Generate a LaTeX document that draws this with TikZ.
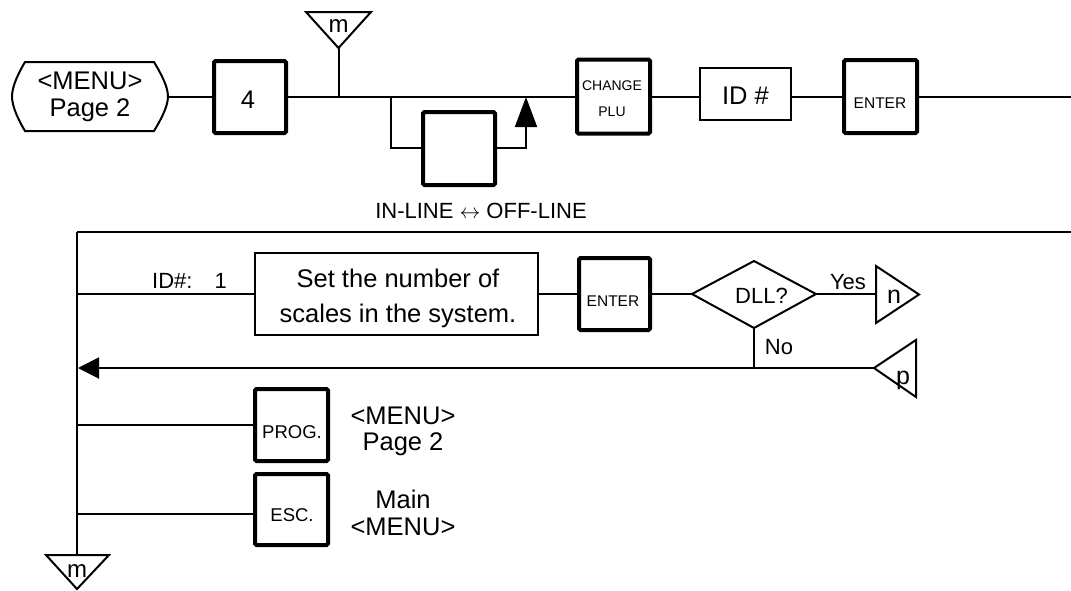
\documentclass[tikz,border=0pt]{standalone}
\usepackage{fontspec}
\setmainfont{Liberation Sans}
\usetikzlibrary{arrows.meta}
\tikzset{
  ln/.style={line width=2pt},
  keybox/.style={draw, line width=4pt, rounded corners=1.5pt, inner sep=0pt, fill=white},
  thinbox/.style={draw, line width=2pt, inner sep=0pt, fill=white},
  bigtxt/.style={font=\fontsize{25.5}{27}\selectfont, inner sep=0pt},
  labtxt/.style={font=\fontsize{22}{26}\selectfont, inner sep=0pt},
  tritxt/.style={font=\fontsize{24}{26}\selectfont, inner sep=0pt},
  keysmall/.style={font=\fontsize{14}{26}\selectfont, inner sep=0pt, align=center},
  keyenter/.style={font=\fontsize{15.5}{18}\selectfont, inner sep=0pt},
  keymid/.style={font=\fontsize{18.5}{20}\selectfont, inner sep=0pt},
  tri/.style={draw, line width=2pt, line join=miter},
  uparrow/.style={ln, -{Triangle[length=30pt,width=22pt]}},
  leftarrow/.style={ln, -{Triangle[length=21pt,width=21pt]}},
}
\begin{document}
\begin{tikzpicture}[x=1pt,y=-1pt]
\useasboundingbox (0,0) rectangle (1071,590);

% ---------- top row ----------
\node[draw=none, minimum width=156pt, minimum height=69pt, inner sep=0pt] (start) at (90,96.5) {};
\draw[ln] (25,62) -- (154,62) .. controls (160,72) and (168,86) .. (168,96.5)
  .. controls (168,107) and (160,121) .. (154,131) -- (25,131)
  .. controls (19,121) and (12,107) .. (12,96.5)
  .. controls (12,86) and (19,72) .. (25,62) -- cycle;
\node[bigtxt, align=center] (starttxt) at (90,97) {<MENU>\\Page 2};

\node[keybox, minimum width=72pt, minimum height=72pt] (four) at (250,97) {};
\node[bigtxt] (fourtxt) at (248,100) {4};

\node[keybox, minimum width=73pt, minimum height=74pt] (chg) at (613.5,96.5) {};
\node[keysmall] (chgtxt) at (612,99) {CHANGE\\PLU};

\node[thinbox, minimum width=91pt, minimum height=52pt] (id) at (745.5,94) {};
\node[bigtxt] (idtxt) at (745.5,95.5) {ID \#};

\node[keybox, minimum width=73pt, minimum height=73pt] (enterA) at (880.5,96.5) {};
\node[keyenter] (enterAtxt) at (880,103) {ENTER};

\coordinate (topR) at (1071,97);
\draw[ln] (start.east |- 0,97) -- (four.west |- 0,97);
\draw[ln] (four.east |- 0,97) -- (chg.west |- 0,97);
\draw[ln] (chg.east |- 0,97) -- (id.west |- 0,97);
\draw[ln] (id.east |- 0,97) -- (enterA.west |- 0,97);
\draw[ln] (enterA.east |- 0,97) -- (topR);

% m connector at top
\coordinate (mA) at (306,12);
\coordinate (mB) at (371,12);
\coordinate (mC) at (338.5,48);
\draw[tri] (mA) -- (mB) -- (mC) -- cycle;
\node[tritxt, anchor=base] (mtoptxt) at (338.5,32) {m};
\coordinate (mstem) at (338.5,97);
\draw[ln] (mC) -- (mstem);

% in-line / off-line branch
\node[keybox, minimum width=72pt, minimum height=73pt] (sw) at (459,148.5) {};
\coordinate (bL) at (391,97);
\coordinate (bR) at (526,97);
\draw[ln] (bL) |- (sw.west |- 0,148);
\draw[uparrow] (sw.east |- 0,148) -| (bR);
\node[labtxt] (swtxt) at (481,211) {IN-LINE {\fontsize{20}{22}\selectfont$\leftrightarrow$} OFF-LINE};

% ---------- lower section ----------
\coordinate (vTop) at (77,232);
\coordinate (hR) at (1071,232);
\draw[ln] (hR) -- (vTop);

% bottom m connector
\coordinate (m2A) at (46,555);
\coordinate (m2B) at (109,555);
\coordinate (m2C) at (77,589);
\draw[tri] (m2A) -- (m2B) -- (m2C) -- cycle;
\node[tritxt, anchor=base] (mbottxt) at (77,577) {m};
\coordinate (vBot) at (77,555);
\draw[ln] (vTop) -- (vBot);

% row 1
\node[thinbox, minimum width=283pt, minimum height=82pt] (set) at (396.5,294) {};
\node[bigtxt, align=center, font=\fontsize{25.5}{35}\selectfont] (settxt) at (398,298) {Set the number of\\ scales in the system.};
\coordinate (r1L) at (77,294);
\draw[ln] (r1L) -- (set.west);
\node[labtxt, anchor=base east] (idlab) at (227,288) {ID\#:\hspace{22pt}1};

\node[keybox, minimum width=71pt, minimum height=72pt] (enterB) at (614.5,294) {};
\node[keyenter] (enterBtxt) at (613,301) {ENTER};
\draw[ln] (set.east) -- (enterB.west);

\coordinate (dL) at (692,294);
\coordinate (dT) at (754,261);
\coordinate (dR) at (816,294);
\coordinate (dB) at (754,328);
\draw[ln, line join=miter] (dL) -- (dT) -- (dR) -- (dB) -- cycle;
\node[labtxt] (dll) at (761.5,295.5) {DLL?};
\draw[ln] (enterB.east) -- (dL);

% n connector
\coordinate (nA) at (876,266);
\coordinate (nB) at (876,323);
\coordinate (nC) at (919,294.5);
\draw[tri] (nA) -- (nC) -- (nB) -- cycle;
\node[tritxt, font=\fontsize{25}{26}\selectfont, anchor=base] (ntxt) at (894,303) {n};
\draw[ln] (dR) -- (nA |- dR);
\node[labtxt] (yes) at (848,282) {Yes};

% p connector and return arrow
\coordinate (pA) at (874,368);
\coordinate (pB) at (916,340);
\coordinate (pC) at (916,397);
\draw[tri] (pA) -- (pB) -- (pC) -- cycle;
\node[tritxt, font=\fontsize{25}{26}\selectfont, anchor=base] (ptxt) at (903,384) {p};
\coordinate (retL) at (78,368);
\draw[leftarrow] (pA) -- (retL);
\draw[ln] (dB) -- (dB |- pA);
\node[labtxt] (no) at (779,347) {No};

% PROG.
\node[keybox, minimum width=73pt, minimum height=72pt] (prog) at (291.5,425) {};
\node[keymid] (progtxt) at (292,432) {PROG.};
\coordinate (progL) at (77,425);
\draw[ln] (progL) -- (prog.west);
\node[bigtxt, align=center, font=\fontsize{25.5}{26}\selectfont] (proglab) at (403,431) {<MENU>\\Page 2};

% ESC.
\node[keybox, minimum width=73pt, minimum height=71pt] (esc) at (291.5,509.5) {};
\node[keymid] (esctxt) at (292,515) {ESC.};
\coordinate (escL) at (77,514);
\draw[ln] (escL) -- (escL -| esc.west);
\node[bigtxt, align=center, font=\fontsize{25.5}{27}\selectfont] (esclab) at (403,513) {Main\\<MENU>};
\end{tikzpicture}
\end{document}
